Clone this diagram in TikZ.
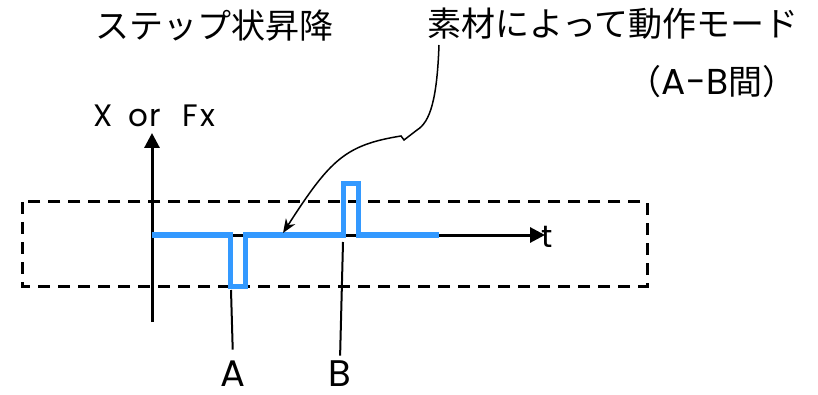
\documentclass[tikz,border=0pt]{standalone}
\usepackage{fontspec}
\newfontfamily\jpfont{Noto Sans CJK JP}
\newfontfamily\latfont{Poppins}
\usetikzlibrary{arrows.meta, positioning}
\definecolor{wave}{RGB}{51,153,255}
% half-width cell for latin letters
\newcommand\hc[1]{\makebox[17.5pt]{#1}}

\begin{document}
\begin{tikzpicture}[x=1pt, y=-1pt, line width=3pt]
    \useasboundingbox (0,0) rectangle (818,395);
    \tikzset{
        jptext/.style={font=\jpfont\fontsize{34}{40}\selectfont, inner sep=0pt},
        axtext/.style={font=\latfont\fontsize{31}{36}\selectfont, inner sep=0pt},
        mark label/.style={font=\latfont\fontsize{37}{44}\selectfont, inner sep=0pt},
        axis/.style={-{Triangle[length=15pt,width=15pt]}},
        signal/.style={wave, line width=5.5pt, line join=miter},
    }
    % texts
    \node[jptext] (title) at (214,26) {ステップ状昇降};
    \node[jptext] (note) at (613,24) {素材によって動作モード};
    \node[jptext] (range) at (712,82) {（{\latfont\fontsize{36}{40}\selectfont A-B}間）};
    \node[axtext] (ylab) at (155.6,116) {\hc{X}\hc{}\hc{o}\hc{r}\hc{}\hc{F}\hc{x}};
    \node[axtext] (tlab) at (547,237) {t};
    \node[mark label] (labA) at (233,374) {A};
    \node[mark label] (labB) at (340,374) {B};
    % dashed band
    \draw[dash pattern=on 12pt off 8pt] (22,202) rectangle (647,286);
    % axes
    \coordinate (yfoot) at (152,322);
    \coordinate (ytip) at (152,133);
    \coordinate (o) at (152,235);
    \coordinate (ttip) at (545,235);
    \draw[axis] (yfoot) -- (ytip);
    \draw[axis] (o) -- (ttip);
    % step signal
    \coordinate (dipA) at (231,290);
    \coordinate (peakB) at (343,242);
    \draw[signal] (o) -- (230.7,235) -- (230.7,286.7) -- (245.7,286.7) -- (245.7,235)
        -- (343.3,235) -- (343.3,183.3) -- (358.3,183.3) -- (358.3,235) -- (439,235);
    % markers A and B
    \draw[line width=2pt, shorten >=10pt] (dipA) -- (labA.north);
    \draw[line width=2pt, shorten >=4pt] (peakB) -- (labB.north);
    % pointer from the note
    \coordinate (from) at (439,45);
    \coordinate (onwave) at (283,233);
    \draw[line width=1.5pt, -{Stealth[length=14pt,width=11pt]}]
        (from) .. controls (437,100) and (430,122) .. (417,130) -- (404,140) -- (401,136)
        .. controls (345,145) and (330,160) .. (onwave);
\end{tikzpicture}
\end{document}
